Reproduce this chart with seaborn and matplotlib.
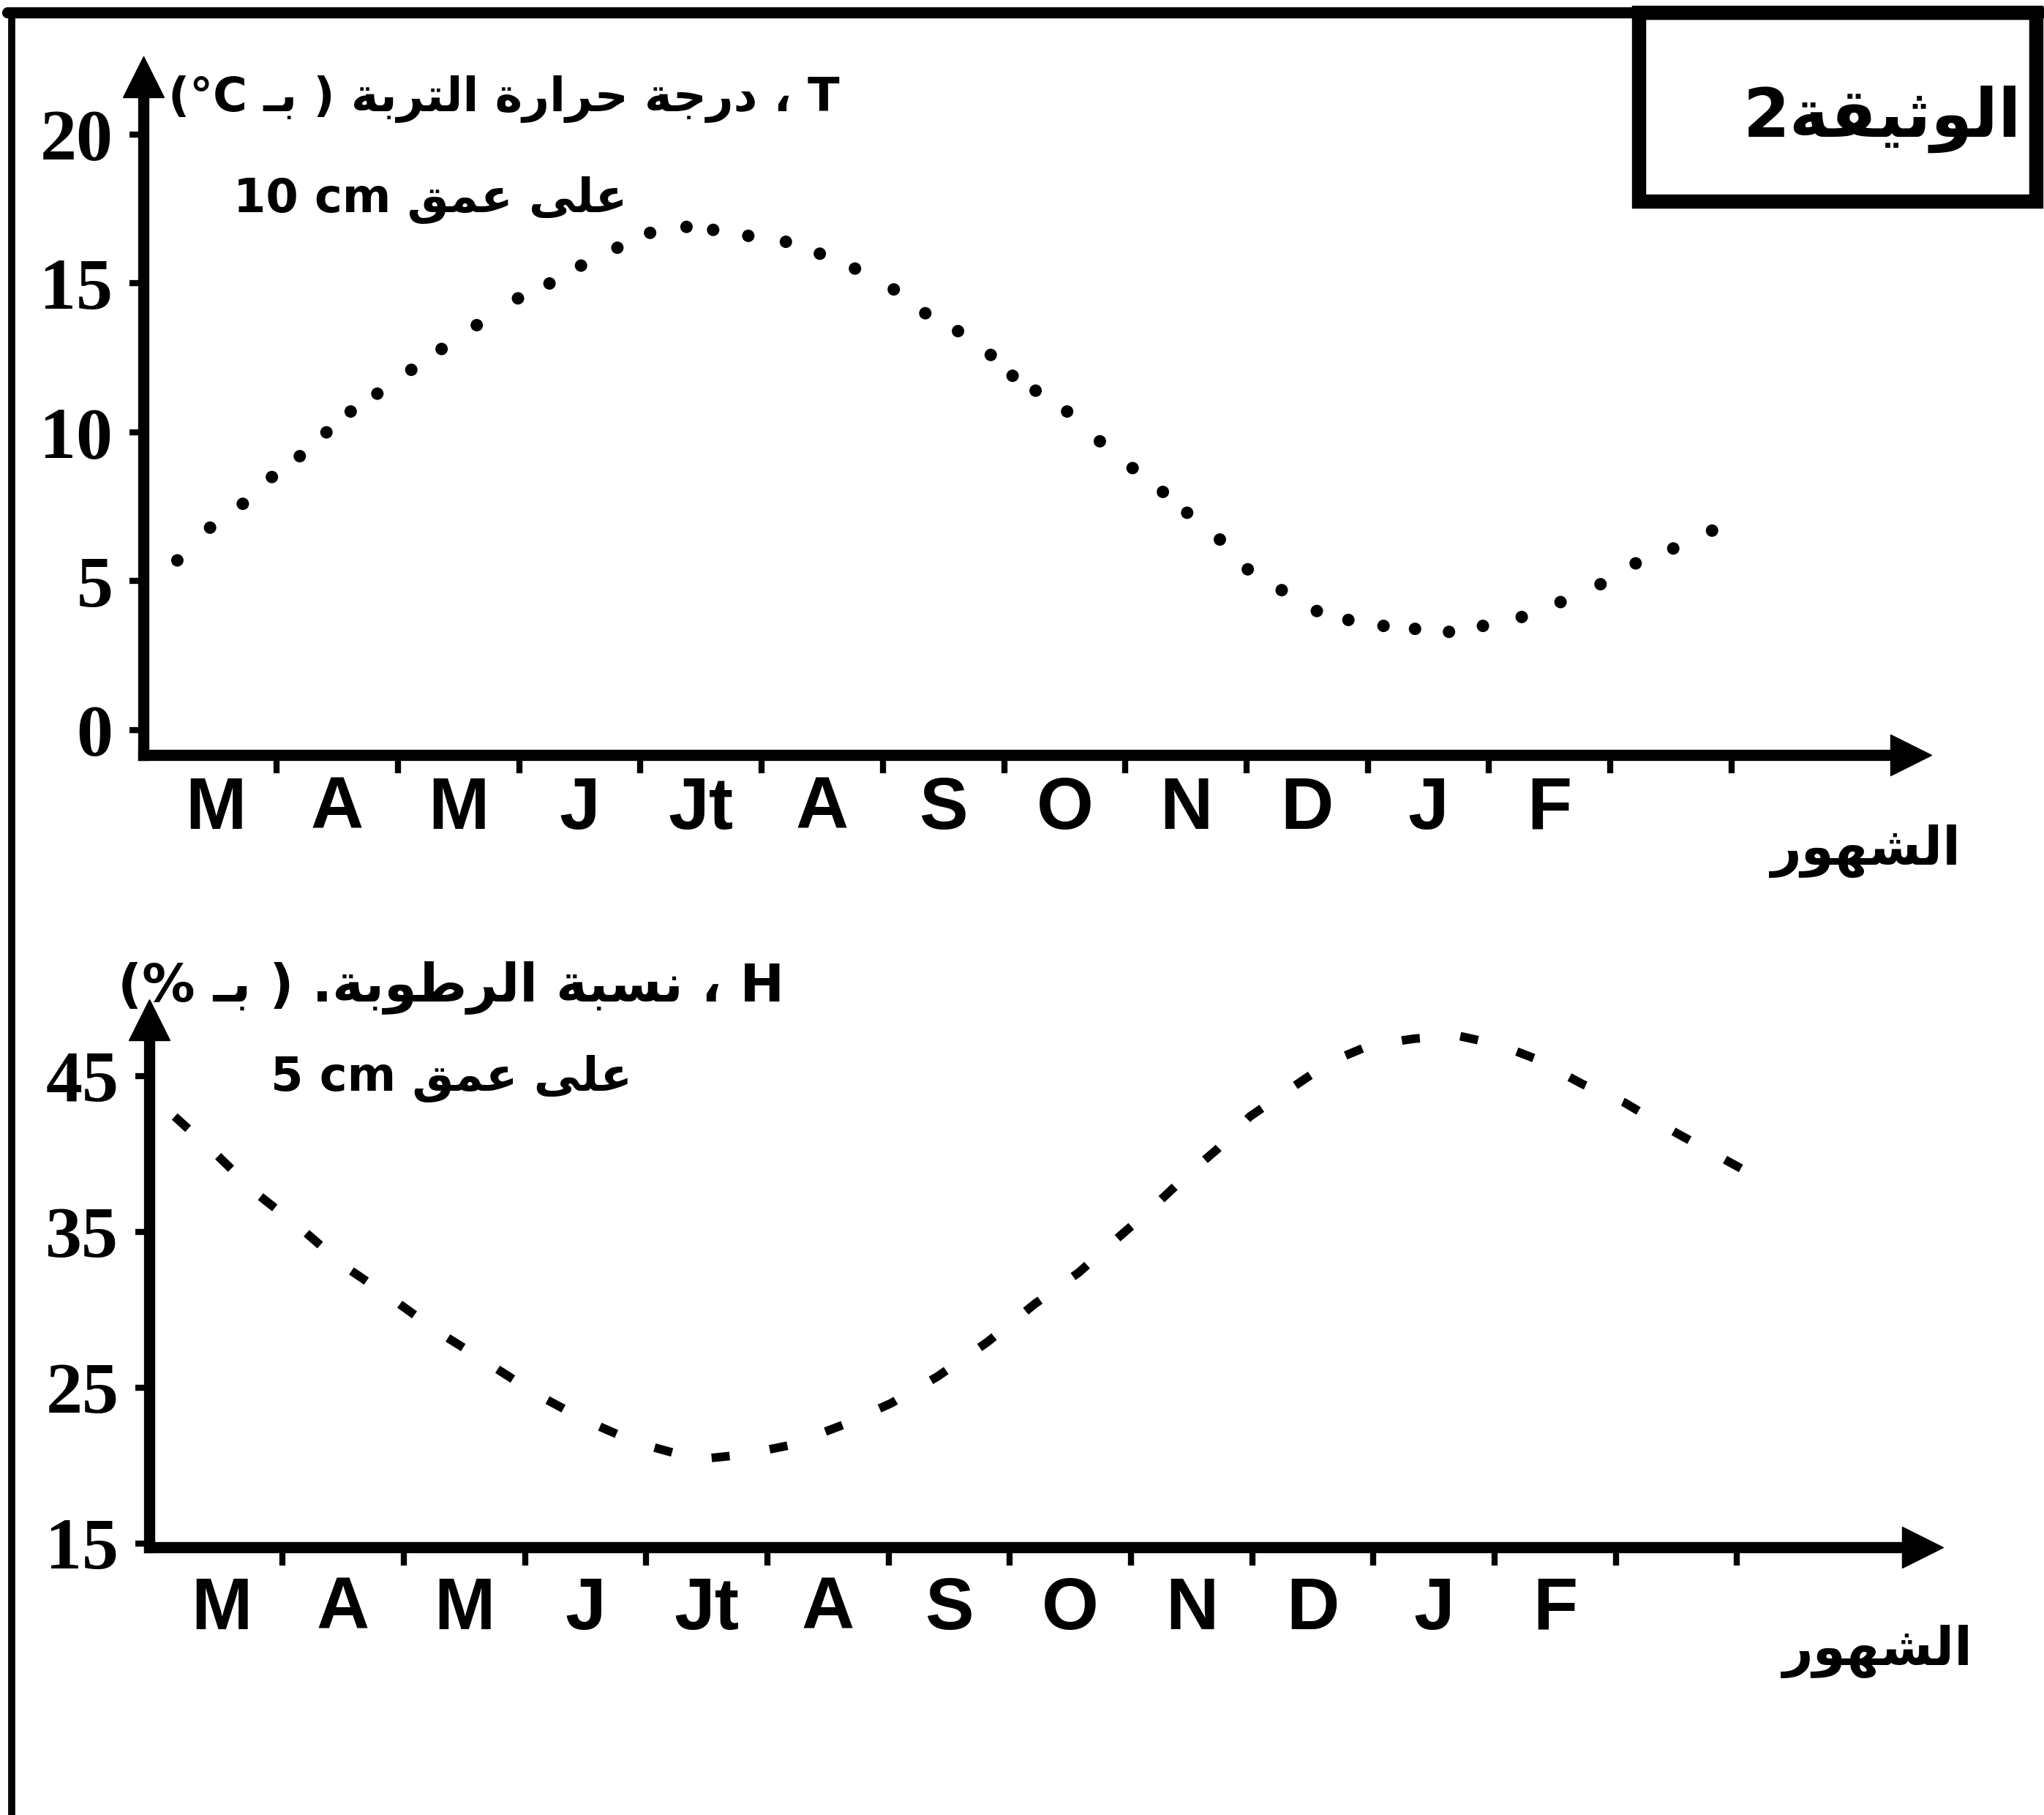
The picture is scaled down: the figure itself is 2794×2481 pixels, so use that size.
import matplotlib
matplotlib.use("Agg")
import matplotlib.pyplot as plt
from matplotlib import font_manager
from matplotlib.patches import Rectangle
from matplotlib.lines import Line2D
import seaborn as sns
import numpy as np

# ---------------- data ----------------
months = ["M", "A", "M", "J", "Jt", "A", "S", "O", "N", "D", "J", "F"]

# soil temperature at 10 cm (°C), x in months from the start of March
T_month = [0.28, 0.55, 0.82, 1.06, 1.29, 1.51, 1.71, 1.93, 2.21, 2.46, 2.75, 3.09,
           3.35, 3.61, 3.91, 4.18, 4.48, 4.70, 4.99, 5.30, 5.58, 5.87, 6.19, 6.45,
           6.72, 6.99, 7.17, 7.36, 7.62, 7.89, 8.16, 8.41, 8.61, 8.88, 9.11, 9.39,
           9.68, 9.94, 10.23, 10.49, 10.77, 11.05, 11.37, 11.69, 12.02, 12.31, 12.62, 12.94]
T_val = [5.7, 6.8, 7.6, 8.5, 9.2, 10.0, 10.7, 11.3, 12.1, 12.8, 13.6, 14.5,
         15.0, 15.6, 16.2, 16.7, 16.9, 16.8, 16.6, 16.4, 16.0, 15.5, 14.8, 14.0,
         13.4, 12.6, 11.9, 11.4, 10.7, 9.7, 8.8, 8.0, 7.3, 6.4, 5.4, 4.7,
         4.0, 3.7, 3.5, 3.4, 3.3, 3.5, 3.8, 4.3, 4.9, 5.6, 6.1, 6.7]

# soil humidity at 5 cm (%)
H_month = [0.21, 0.55, 0.88, 1.27, 1.61, 1.97, 2.38, 2.77, 3.19, 3.60, 4.01, 4.52,
           4.90, 5.28, 5.72, 6.12, 6.50, 6.91, 7.31, 7.67, 7.93, 8.27, 8.57, 8.81,
           9.08, 9.38, 9.74, 10.08, 10.44, 10.79, 11.14, 11.44, 11.82, 12.17, 12.54,
           12.89, 13.22]
H_val = [42.4, 40.0, 37.5, 35.1, 32.8, 30.9, 28.6, 26.7, 24.6, 22.9, 21.5, 20.4,
         20.7, 21.3, 22.6, 24.0, 25.7, 27.9, 30.4, 32.4, 34.2, 36.5, 38.7, 40.3,
         42.4, 44.0, 45.9, 47.0, 47.4, 47.6, 47.0, 46.1, 44.5, 43.3, 41.6, 40.1, 38.7]

T_ticks = [0, 5, 10, 15, 20]
H_ticks = [15, 25, 35, 45]

# ---------------- minimal Arabic shaping (visual order) ----------------
FORMS = {
    'ا': (0xFE8D, 0xFE8E, None, None), 'ب': (0xFE8F, 0xFE90, 0xFE91, 0xFE92),
    'ة': (0xFE93, 0xFE94, None, None), 'ت': (0xFE95, 0xFE96, 0xFE97, 0xFE98),
    'ث': (0xFE99, 0xFE9A, 0xFE9B, 0xFE9C), 'ج': (0xFE9D, 0xFE9E, 0xFE9F, 0xFEA0),
    'ح': (0xFEA1, 0xFEA2, 0xFEA3, 0xFEA4), 'د': (0xFEA9, 0xFEAA, None, None),
    'ر': (0xFEAD, 0xFEAE, None, None), 'س': (0xFEB1, 0xFEB2, 0xFEB3, 0xFEB4),
    'ش': (0xFEB5, 0xFEB6, 0xFEB7, 0xFEB8), 'ط': (0xFEC1, 0xFEC2, 0xFEC3, 0xFEC4),
    'ع': (0xFEC9, 0xFECA, 0xFECB, 0xFECC), 'ق': (0xFED5, 0xFED6, 0xFED7, 0xFED8),
    'ل': (0xFEDD, 0xFEDE, 0xFEDF, 0xFEE0), 'م': (0xFEE1, 0xFEE2, 0xFEE3, 0xFEE4),
    'ن': (0xFEE5, 0xFEE6, 0xFEE7, 0xFEE8), 'ه': (0xFEE9, 0xFEEA, 0xFEEB, 0xFEEC),
    'و': (0xFEED, 0xFEEE, None, None), 'ى': (0xFEEF, 0xFEF0, None, None),
    'ي': (0xFEF1, 0xFEF2, 0xFEF3, 0xFEF4), 'ـ': (0x0640, 0x0640, 0x0640, 0x0640),
}


def shape_word(w):
    out = []
    for i, ch in enumerate(w):
        f = FORMS.get(ch)
        if f is None:
            out.append(ch)
            continue
        prev = w[i - 1] if i > 0 else None
        nxt = w[i + 1] if i < len(w) - 1 else None
        jp = prev in FORMS and FORMS[prev][2] is not None
        jn = f[2] is not None and nxt in FORMS
        c = f[3] if (jp and jn) else f[1] if jp else f[2] if jn else f[0]
        out.append(chr(c))
    return ''.join(reversed(out))


def rtl(text):
    return ' '.join(shape_word(w) for w in reversed(text.split(' ')))


# ---------------- style ----------------
sns.set_theme(style="white")
plt.rcParams['font.family'] = ['DejaVu Sans']
plt.rcParams.update({'text.color': 'black', 'xtick.color': 'black',
                     'ytick.color': 'black', 'axes.labelcolor': 'black',
                     'axes.edgecolor': 'black'})


def have(fam):
    try:
        font_manager.findfont(font_manager.FontProperties(family=fam, weight='bold'),
                              fallback_to_default=False)
        return True
    except Exception:
        return False


MONTH_FONT = 'Liberation Sans Narrow' if have('Liberation Sans Narrow') else 'Liberation Sans'
MONTH_SIZE = 80 if MONTH_FONT == 'Liberation Sans Narrow' else 72
NUM_FONT = 'Liberation Serif'
AR_FONT = ['DejaVu Sans']

W, H = 2794, 2481
fig = plt.figure(figsize=(W / 100, H / 100), dpi=100)
fig.patch.set_facecolor('white')


def fx(x):
    return x / W


def fy(y):
    return 1 - y / H


ax1 = fig.add_axes([0.07015, 0.58404, 0.86471, 0.37364])
ax2 = fig.add_axes([0.07301, 0.14752, 0.86757, 0.29061])

sns.scatterplot(x=T_month, y=T_val, ax=ax1, color='black', s=150,
                edgecolor='none', legend=False)
sns.lineplot(x=H_month, y=H_val, ax=ax2, color='black', linewidth=8.5,
             linestyle=(0, (2.1, 4.7)), legend=False)

ax1.set_xlim(0, 14.58)
ax1.set_ylim(-0.835, 21.94)
ax2.set_xlim(0, 14.63)
ax2.set_ylim(14.76, 48.61)

for ax, yt, pad_lab in [(ax1, T_ticks, 20), (ax2, H_ticks, 28)]:
    ax.set_facecolor('white')
    for s in ['top', 'right']:
        ax.spines[s].set_visible(False)
    for s in ['left', 'bottom']:
        ax.spines[s].set_visible(True)
        ax.spines[s].set_linewidth(11)
        ax.spines[s].set_color('black')
    ax.set_xticks(np.arange(1, 14) + 0.1)
    ax.set_xticks(np.arange(len(months)) + 0.6, minor=True)
    ax.set_xticklabels([], minor=False)
    ax.set_xticklabels(months, minor=True, fontfamily=MONTH_FONT,
                       fontweight='bold', fontsize=MONTH_SIZE, color='black')
    ax.tick_params(axis='x', which='major', direction='out', length=18, width=6,
                   color='black', bottom=True)
    ax.tick_params(axis='x', which='minor', length=0, pad=pad_lab, bottom=True)
    ax.set_yticks(yt)
    ax.set_yticklabels([str(v) for v in yt], fontfamily=NUM_FONT,
                       fontweight='bold', fontsize=72, color='black')
    ax.tick_params(axis='y', direction='out', length=14, width=6, pad=16,
                   color='black', left=True)
    ax.set_xlabel('')
    ax.set_ylabel('')
    ax.grid(False)
    # arrow heads
    ax.plot([0], [1], marker='^', ms=40, color='black', transform=ax.transAxes,
            clip_on=False)
    ax.plot([1], [0], marker='>', ms=40, color='black', transform=ax.transAxes,
            clip_on=False)

# ---------------- texts ----------------
ba = shape_word('بـ')
top_label = '(°C ' + ba + ' ) ' + rtl('درجة حرارة التربة') + ' ، T'
fig.text(fx(230), fy(152), top_label, ha='left', va='baseline', color='black',
         fontfamily=AR_FONT, fontweight='bold', fontsize=46)
fig.text(fx(319), fy(290), '10 cm ' + rtl('على عمق'), ha='left', va='baseline',
         color='black', fontfamily=AR_FONT, fontweight='bold', fontsize=46)

h_label = '(% ' + ba + ' ) .' + rtl('نسبة الرطوبة') + ' ، H'
fig.text(fx(161), fy(1369), h_label, ha='left', va='baseline', color='black',
         fontfamily=AR_FONT, fontweight='bold', fontsize=52)
fig.text(fx(370), fy(1491), '5 cm ' + rtl('على عمق'), ha='left', va='baseline',
         color='black', fontfamily=AR_FONT, fontweight='bold', fontsize=46)

fig.text(fx(2551), fy(1164), shape_word('الشهور'), ha='center', va='center',
         color='black', fontfamily=AR_FONT, fontweight='bold', fontsize=52)
fig.text(fx(2567), fy(2257), shape_word('الشهور'), ha='center', va='center',
         color='black', fontfamily=AR_FONT, fontweight='bold', fontsize=52)

fig.text(fx(2573), fy(163), '2' + shape_word('الوثيقة'), ha='center', va='center',
         color='black', fontfamily=AR_FONT, fontweight='bold', fontsize=66)

# frame + title box
fig.add_artist(Line2D([fx(10), fx(2794)], [fy(17), fy(17)], color='black', lw=11))
fig.add_artist(Line2D([fx(16), fx(16)], [fy(17), fy(2481)], color='black', lw=7))
fig.add_artist(Rectangle((fx(2240), fy(275)), fx(2783 - 2240), (275 - 17) / H,
                         fill=False, edgecolor='black', lw=14))

fig.savefig('out.png', dpi=100, facecolor='white')
